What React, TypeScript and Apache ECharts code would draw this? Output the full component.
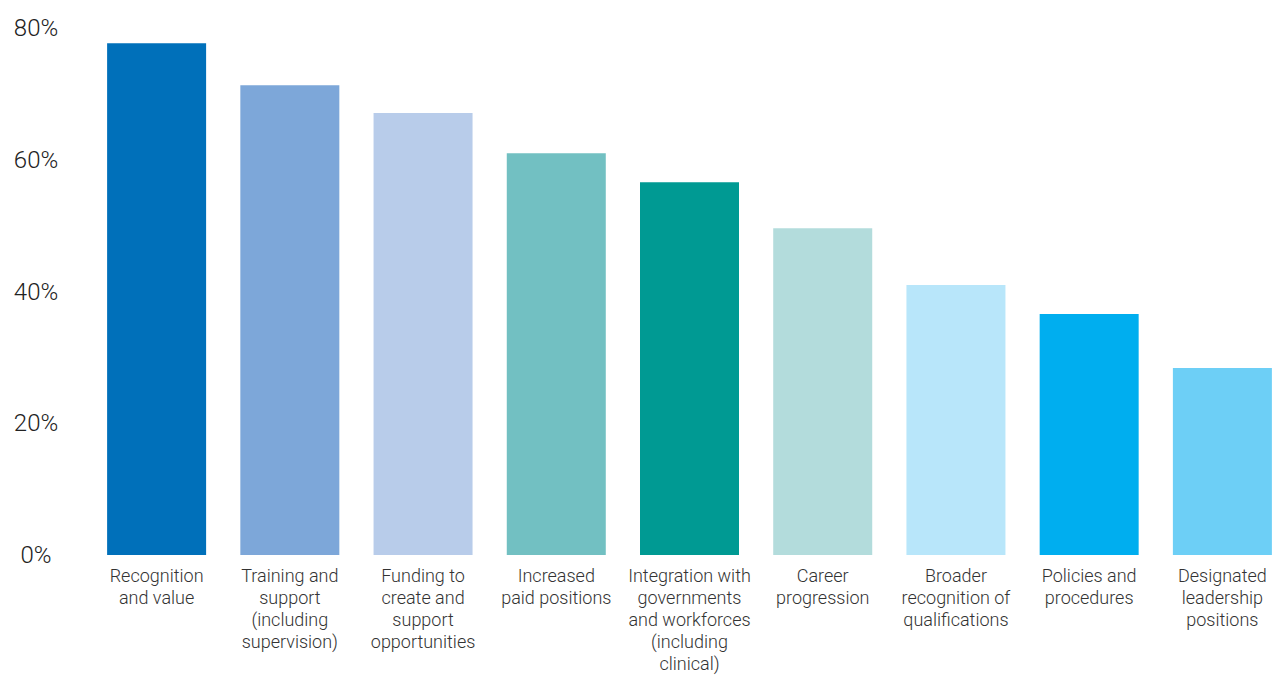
import React, { useEffect, useRef } from "react";
import * as echarts from "echarts";

const categories = [
  "Recognition\nand value",
  "Training and\nsupport\n(including\nsupervision)",
  "Funding to\ncreate and\nsupport\nopportunities",
  "Increased\npaid positions",
  "Integration with\ngovernments\nand workforces\n(including\nclinical)",
  "Career\nprogression",
  "Broader\nrecognition of\nqualifications",
  "Policies and\nprocedures",
  "Designated\nleadership\npositions",
];

const values = [77.7, 71.3, 67.1, 61.0, 56.6, 49.6, 41.0, 36.6, 28.4];

const barColors = [
  "#0070BA",
  "#7DA7D9",
  "#B8CCEA",
  "#72C0C2",
  "#009A93",
  "#B3DCDC",
  "#B8E6FA",
  "#00AEEF",
  "#6DCFF6",
];

const yTicks = [0, 20, 40, 60, 80];

export default function App() {
  const ref = useRef<HTMLDivElement>(null);
  useEffect(() => {
    document.body.style.margin = "0";
    if (!ref.current) return;
    const chart = echarts.init(ref.current, undefined, { renderer: "svg" });
    const font = "Roboto, 'Liberation Sans', Arial, sans-serif";
    chart.setOption({
      animation: false,
      backgroundColor: "#ffffff",
      grid: {
        left: 90,
        top: 28,
        width: 1199,
        bottom: 120,
        containLabel: false,
        outerBoundsMode: "none",
      },
      xAxis: {
        type: "category",
        data: categories,
        axisLine: { show: false },
        axisTick: { show: false },
        axisLabel: {
          interval: 0,
          margin: 9,
          color: "#333333",
          fontFamily: font,
          fontWeight: 300,
          fontSize: 18,
          lineHeight: 22.2,
          align: "center",
        },
      },
      yAxis: {
        type: "value",
        min: yTicks[0],
        max: yTicks[yTicks.length - 1],
        interval: 20,
        axisLine: { show: false },
        axisTick: { show: false },
        splitLine: { show: false },
        axisLabel: {
          margin: 54,
          align: "center",
          color: "#222222",
          fontFamily: font,
          fontWeight: 300,
          fontSize: 24,
          formatter: (v: number) => `${v}%`,
        },
      },
      series: [
        {
          type: "bar",
          barWidth: 99,
          data: values.map((v, i) => ({ value: v, itemStyle: { color: barColors[i] } })),
        },
      ],
    });
    return () => chart.dispose();
  }, []);
  return <div ref={ref} style={{ width: 1277, height: 675 }} />;
}
